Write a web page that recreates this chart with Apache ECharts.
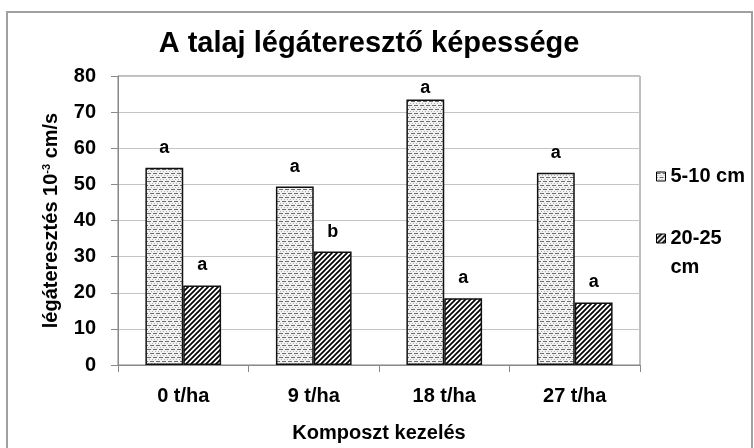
<!DOCTYPE html>
<html>
<head>
<meta charset="utf-8">
<script src="https://cdn.jsdelivr.net/npm/echarts@6/dist/echarts.min.js"></script>
<style>
  html, body { margin: 0; padding: 0; background: #fff; }
  #chart { width: 754px; height: 448px; }
</style>
</head>
<body>
<div id="chart"></div>
<script>
// adatok
var categories = ['0 t/ha', '9 t/ha', '18 t/ha', '27 t/ha'];
var seriesNames = ['5-10 cm', '20-25 cm'];
var values5_10 = [54.6, 49.4, 73.5, 53.2];
var values20_25 = [22.0, 31.4, 18.5, 17.3];
var letters5_10 = ['a', 'a', 'a', 'a'];
var letters20_25 = ['a', 'b', 'a', 'a'];
var yTicks = [0, 10, 20, 30, 40, 50, 60, 70, 80];

var FONT = '"Liberation Sans", Arial, sans-serif';

// pontozott minta (5-10 cm)
function dotPattern() {
  var c = document.createElement('canvas');
  c.width = 6; c.height = 8;
  var g = c.getContext('2d');
  g.fillStyle = '#f2f2f2';
  g.fillRect(0, 0, 6, 8);
  g.fillStyle = '#6a6a6a';
  g.fillRect(0, 1, 4, 1);
  g.fillRect(3, 5, 3, 1);
  g.fillRect(0, 5, 1, 1);
  g.fillStyle = '#b0b0b0';
  g.fillRect(1, 3, 1, 1);
  g.fillRect(4, 3, 1, 1);
  g.fillRect(2, 7, 1, 1);
  g.fillRect(5, 7, 1, 1);
  return c;
}

// sraffozott minta (20-25 cm)
function hatchPattern() {
  var s = 5;
  var c = document.createElement('canvas');
  c.width = s; c.height = s;
  var g = c.getContext('2d');
  g.fillStyle = '#fff';
  g.fillRect(0, 0, s, s);
  g.strokeStyle = '#000';
  g.lineWidth = 1.7;
  g.beginPath();
  g.moveTo(-1, s + 1); g.lineTo(s + 1, -1);
  g.moveTo(-s / 2 - 1, s / 2 + 1); g.lineTo(s / 2 + 1, -s / 2 - 1);
  g.moveTo(s / 2 - 1, s * 1.5 + 1); g.lineTo(s * 1.5 + 1, s / 2 - 1);
  g.stroke();
  return c;
}

var myChart = echarts.init(document.getElementById('chart'));

var labelStyle = {
  show: true,
  position: 'top',
  distance: 11,
  fontFamily: FONT,
  fontWeight: 'bold',
  fontSize: 18,
  color: '#000'
};

var data5 = values5_10.map(function (v, i) {
  // Excel a felső címkét a rajzterületen belül tartja
  return v > 70 ? { value: v, label: { distance: 2 } } : v;
});

var option = {
  animation: false,
  backgroundColor: '#fff',
  title: {
    text: 'A talaj légáteresztő képessége',
    left: 364,
    textAlign: 'center',
    top: 24,
    textStyle: { fontFamily: FONT, fontWeight: 'bold', fontSize: 29, color: '#000' }
  },
  legend: {
    orient: 'vertical',
    left: 651,
    top: 157,
    itemWidth: 9,
    itemHeight: 9,
    itemGap: 4,
    icon: 'rect',
    data: seriesNames,
    formatter: function (name) {
      // az ikon az első sor mellett álljon, a "cm" törjön új sorba
      return name === seriesNames[1] ? ' \n' + name.replace(' ', '\n') : name;
    },
    textStyle: { fontFamily: FONT, fontWeight: 'bold', fontSize: 20, color: '#000', lineHeight: 29 },
    itemStyle: { borderColor: '#000', borderWidth: 1 }
  },
  grid: {
    left: 118,
    right: 114,
    top: 76,
    bottom: 80,
    show: true,
    borderColor: '#7f7f7f',
    borderWidth: 1
  },
  xAxis: {
    type: 'category',
    data: categories,
    name: 'Komposzt kezelés',
    nameLocation: 'middle',
    nameGap: 58,
    nameTextStyle: { fontFamily: FONT, fontWeight: 'bold', fontSize: 20, color: '#000' },
    axisLine: { lineStyle: { color: '#8a8a8a', width: 1 } },
    axisTick: { show: true, length: 7, lineStyle: { color: '#8a8a8a' } },
    axisLabel: { margin: 21, fontFamily: FONT, fontWeight: 'bold', fontSize: 20, color: '#000' }
  },
  yAxis: {
    type: 'value',
    min: yTicks[0],
    max: yTicks[yTicks.length - 1],
    interval: yTicks[1] - yTicks[0],
    name: 'légáteresztés 10{sup|-3} cm/s',
    nameLocation: 'middle',
    nameGap: 57,
    nameTextStyle: {
      fontFamily: FONT, fontWeight: 'bold', fontSize: 20, color: '#000',
      rich: { sup: { fontFamily: FONT, fontWeight: 'bold', fontSize: 11, color: '#000', padding: [0, 0, 9, 0] } }
    },
    axisLine: { show: true, lineStyle: { color: '#8a8a8a', width: 1 } },
    axisTick: { show: true, length: 7, lineStyle: { color: '#8a8a8a' } },
    axisLabel: { margin: 22, fontFamily: FONT, fontWeight: 'bold', fontSize: 20, color: '#000' },
    splitLine: { lineStyle: { color: '#c4c4c4', width: 1 } }
  },
  series: [
    {
      name: seriesNames[0],
      type: 'bar',
      data: data5,
      barGap: '0%',
      barCategoryGap: '42%',
      itemStyle: { color: { image: dotPattern(), repeat: 'repeat' }, borderColor: '#111', borderWidth: 1.5 },
      label: Object.assign({}, labelStyle, {
        formatter: function (p) { return letters5_10[p.dataIndex]; }
      })
    },
    {
      name: seriesNames[1],
      type: 'bar',
      data: values20_25,
      itemStyle: { color: { image: hatchPattern(), repeat: 'repeat' }, borderColor: '#111', borderWidth: 1.5 },
      label: Object.assign({}, labelStyle, {
        formatter: function (p) { return letters20_25[p.dataIndex]; }
      })
    }
  ],
  graphic: [
    {
      type: 'rect',
      shape: { x: 7, y: 12, width: 745, height: 460 },
      style: { fill: null, stroke: '#a0a0a0', lineWidth: 2 },
      silent: true
    }
  ]
};

myChart.setOption(option);
</script>
</body>
</html>
